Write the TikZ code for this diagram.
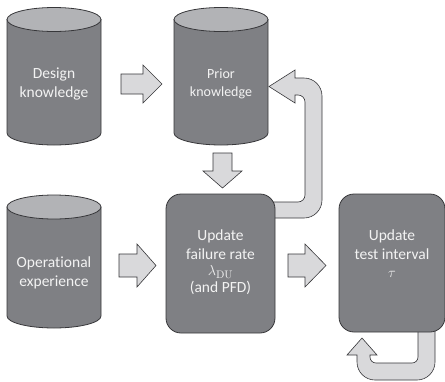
\documentclass[tikz,border=0pt]{standalone}
\usepackage[no-math]{fontspec}
\setmainfont{Carlito}[Ligatures={NoCommon,NoRare}]
\definecolor{drumgray}{RGB}{127,128,132}
\definecolor{drumlid}{RGB}{178,179,182}
\definecolor{arrowfill}{RGB}{217,217,219}
\definecolor{edgegray}{RGB}{55,55,58}
\definecolor{labeltext}{RGB}{243,243,243}

% cylinder: centre x, half width, lid centre y, base centre y
\newcommand\drum[4]{%
  \filldraw[drumbody] ({#1-#2},#3) -- ({#1-#2},#4)
    arc[start angle=180,end angle=0,x radius=#2,y radius=12] -- ({#1+#2},#3) -- cycle;
  \filldraw[drumtop] (#1,#3) ellipse[x radius=#2,y radius=12];
}
% horizontal block arrow: tail x, tip x, head base x, centre y, shaft half width, head half width
\newcommand\rightblock[6]{%
  \filldraw[blockarrow] (#1,{#4-#5}) -- (#3,{#4-#5}) -- (#3,{#4-#6}) -- (#2,#4)
    -- (#3,{#4+#6}) -- (#3,{#4+#5}) -- (#1,{#4+#5}) -- cycle;
}

\begin{document}
\begin{tikzpicture}[x=1pt,y=-1pt,
  drumbody/.style={fill=drumgray,draw=edgegray,line width=0.8pt},
  drumtop/.style={fill=drumlid,draw=edgegray,line width=0.8pt},
  blockarrow/.style={fill=arrowfill,draw=edgegray,line width=0.6pt,line join=miter},
  procbox/.style={fill=drumgray,draw=edgegray,line width=0.8pt,rounded corners=15pt,inner sep=0pt},
  bigtext/.style={text=labeltext,font=\fontsize{15.5}{19}\selectfont,align=center,inner sep=0pt},
  smalltext/.style={text=labeltext,font=\fontsize{14}{18}\selectfont,align=center,inner sep=0pt}]
\useasboundingbox (0,0) rectangle (445,381);

% feedback loop from the rate update back to the prior
\filldraw[blockarrow] (262,202) -- (298,202) arc[start angle=90,end angle=0,radius=7]
  -- (305,102) arc[start angle=0,end angle=-90,radius=7]
  -- (295,95) -- (295,103) -- (269,86.5) -- (295,70) -- (295,78)
  -- (304,78) arc[start angle=-90,end angle=0,radius=18]
  -- (322,200) arc[start angle=0,end angle=90,radius=18]
  -- (262,218) -- cycle;

% loop under the test interval box
\filldraw[blockarrow] (418,320) -- (418,357) arc[start angle=0,end angle=90,radius=6]
  -- (376,363) arc[start angle=90,end angle=180,radius=6]
  -- (370,355) -- (377,355) -- (362,338) -- (347,355) -- (357,355)
  -- (357,362) arc[start angle=180,end angle=90,radius=18]
  -- (417,380) arc[start angle=90,end angle=0,radius=18]
  -- (435,320) -- cycle;

% data stores
\drum{54}{47}{19.5}{133}
\drum{221}{47}{19.5}{133}
\drum{54}{47}{207}{316}
\node[bigtext] (design) at (54,84) {Design\\knowledge};
\node[smalltext] (prior) at (221,83.5) {Prior\\knowledge};
\node[bigtext] (oper) at (54,273) {Operational\\experience};

% processing steps
\node[procbox,minimum width=109pt,minimum height=139pt] (rate) at (220.5,263.5) {};
\node[procbox,minimum width=106pt,minimum height=138pt] (interval) at (392,263) {};
\node[bigtext,anchor=north] (ratetext) at ([yshift=-36pt]rate.north)
  {Update\\failure rate\\[-3pt]$\lambda_{\mathrm{DU}}$\\[-2pt](and PFD)};
\node[bigtext,anchor=north] (intervaltext) at ([yshift=-36pt]interval.north)
  {Update\\test interval\\[-1pt]$\tau$};

% straight block arrows
\rightblock{121}{162}{143}{84}{10}{19}
\rightblock{119}{156}{137}{265.5}{11.5}{21.5}
\rightblock{288}{326}{305}{265.5}{11.5}{21.5}
\filldraw[blockarrow] (213,153) -- (213,171) -- (203,171) -- (222.5,188) -- (242,171)
  -- (232,171) -- (232,153) -- cycle;
\end{tikzpicture}
\end{document}
